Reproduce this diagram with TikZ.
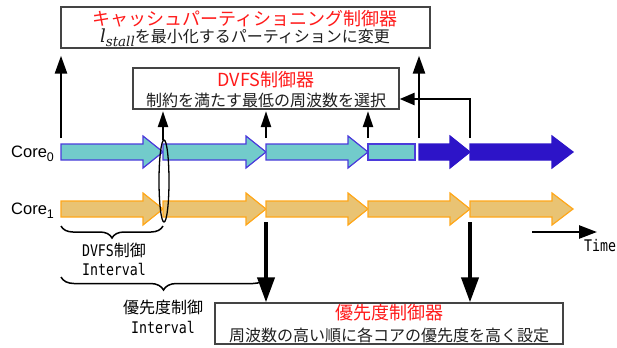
\documentclass[tikz,border=0pt]{standalone}
\usepackage{fontspec}
\setsansfont{Liberation Sans}
\setmonofont{DejaVu Sans Mono}
\newfontfamily\jp{Noto Sans CJK JP}
\newfontfamily\narrowmono[FakeStretch=0.83]{DejaVu Sans Mono}
\newfontfamily\dvserif{DejaVu Serif}
\usetikzlibrary{arrows.meta,decorations.pathreplacing,shapes.geometric}
\definecolor{cyanfill}{HTML}{72CBCB}
\definecolor{cyandraw}{HTML}{4B3BDB}
\definecolor{darkblue}{HTML}{2D14C8}
\definecolor{orangefill}{HTML}{E9C373}
\definecolor{orangedraw}{HTML}{FFA71A}
\definecolor{boxdraw}{HTML}{444444}
\definecolor{titlered}{HTML}{FF1A1A}
\newcommand\blockarr[5]{%
  \filldraw[#1] (#2,#5-8) -- (#3,#5-8) -- (#3,#5-16) -- (#4,#5) -- (#3,#5+16) -- (#3,#5+8) -- (#2,#5+8) -- cycle;}
\newcommand\monotext{\narrowmono\fontsize{16bp}{18bp}\selectfont}
\newcommand\coresub[1]{\raisebox{-4bp}{\fontsize{12.5bp}{14bp}\selectfont #1}}
\begin{document}
\begin{tikzpicture}[x=1bp,y=-1bp,
  ctrlbox/.style={draw=boxdraw,line width=1.3bp,fill=white,inner sep=0pt},
  redtitle/.style={text=titlered,font=\jp\fontsize{18bp}{20bp}\selectfont,inner sep=0pt},
  desc/.style={text=black!88,font=\jp\fontsize{16bp}{18bp}\selectfont,inner sep=0pt},
  corelbl/.style={font=\sffamily\fontsize{16.5bp}{18bp}\selectfont,inner sep=0pt,anchor=west},
  small/.style={font=\jp\fontsize{16bp}{18bp}\selectfont,inner sep=0pt},
  cyanarr/.style={fill=cyanfill,draw=cyandraw,line width=1.2bp},
  bluearr/.style={fill=darkblue,draw=darkblue,line width=1.2bp},
  orangearr/.style={fill=orangefill,draw=orangedraw,line width=1.2bp},
  uparr/.style={line width=2.5bp,-{Triangle[length=18bp,width=12bp]}},
  dvfsarr/.style={line width=2.2bp,-{Triangle[length=16bp,width=10bp]}},
  downarr/.style={line width=4bp,-{Triangle[length=25bp,width=17bp]}},
  bracestyle/.style={line width=1.5bp,decorate,decoration={brace,mirror,amplitude=#1}},
  bracestyle/.default=12bp
]
\useasboundingbox (0,0) rectangle (617,347);

% control boxes
\node[ctrlbox,minimum width=369bp,minimum height=41bp] (cp) at (245.5,27.5) {};
\node[redtitle] (cptitle) at (245,19) {キャッシュパーティショニング制御器};
\node[desc,anchor=base] (cpdesc) at (245,42) {{\dvserif\itshape\fontsize{18bp}{20bp}\selectfont l\raisebox{-4bp}{\fontsize{13.5bp}{15bp}\selectfont stall}}を最小化するパーティションに変更};

\node[ctrlbox,minimum width=266bp,minimum height=41bp] (dvfs) at (266,88.5) {};
\node[redtitle] (dvfstitle) at (266,80) {DVFS制御器};
\node[desc] (dvfsdesc) at (266,100) {制約を満たす最低の周波数を選択};

\node[ctrlbox,minimum width=348bp,minimum height=41bp] (prio) at (389,323.5) {};
\node[redtitle] (priotitle) at (389,313) {優先度制御器};
\node[desc] (priodesc) at (389,335) {周波数の高い順に各コアの優先度を高く設定};

% core labels
\node[corelbl,anchor=base west] (core0) at (11,157) {Core\coresub{0}};
\node[corelbl,anchor=base west] (core1) at (11,214) {Core\coresub{1}};

% core 0 arrows
\blockarr{cyanarr}{61}{143}{163}{152}
\blockarr{cyanarr}{163}{246}{266}{152}
\blockarr{cyanarr}{266}{348}{368}{152}
\filldraw[cyanarr] (368,144) rectangle (415,160);
\blockarr{bluearr}{419}{450}{470}{152}
\blockarr{bluearr}{470}{552}{573}{152}

% core 1 arrows
\blockarr{orangearr}{61}{143}{163}{209}
\blockarr{orangearr}{163}{246}{266}{209}
\blockarr{orangearr}{266}{348}{368}{209}
\blockarr{orangearr}{368}{450}{470}{209}
\blockarr{orangearr}{470}{552}{573}{209}

% ellipse
\node[draw,line width=1.3bp,ellipse,minimum width=10bp,minimum height=82bp,inner sep=0pt] (sync) at (164,181) {};

% time points
\coordinate (a0) at (61,138);
\coordinate (a1) at (163,140);
\coordinate (a2) at (266,138);
\coordinate (a3) at (368,138);
\coordinate (a4) at (419,138);
\coordinate (a5) at (470,138);
\coordinate (a5b) at (470,99);
\coordinate (d2) at (266,222);
\coordinate (d5) at (470,222);

% arrows to cache partitioning controller
\draw[uparr,shorten >=7bp] (a0) -- (a0 |- cp.south);
\draw[uparr,shorten >=7bp] (a4) -- (a4 |- cp.south);
% arrows to DVFS controller
\draw[dvfsarr,shorten >=1.5bp] (a1) -- (a1 |- dvfs.south);
\draw[dvfsarr,shorten >=1.5bp] (a2) -- (a2 |- dvfs.south);
\draw[dvfsarr,shorten >=1.5bp] (a3) -- (a3 |- dvfs.south);
\draw[line width=2.5bp,-{Triangle[length=15bp,width=12bp]}] (a5) -- (a5b) -- (dvfs.east |- a5b);
% arrows to priority controller
\draw[downarr] (d2) -- (d2 |- prio.north);
\draw[downarr] (d5) -- (d5 |- prio.north);

% braces
\draw[bracestyle] (61,226) -- (163,226);
\draw[bracestyle=13bp] (61,277) -- (266,277);
\node[small] (dvfslbl) at (114,250) {{\monotext DVFS}制御};
\node[small] (dvfsint) at (114,269) {\monotext Interval};
\node[small] (priolbl) at (163,307) {優先度制御};
\node[small] (prioint) at (163,327) {\monotext Interval};

% time axis
\coordinate (ts) at (532,232);
\coordinate (te) at (597,232);
\draw[line width=2.5bp,-{Triangle[length=18bp,width=13bp]}] (ts) -- (te);
\node[small] (timelbl) at (600,246) {\monotext Time};
\end{tikzpicture}
\end{document}
